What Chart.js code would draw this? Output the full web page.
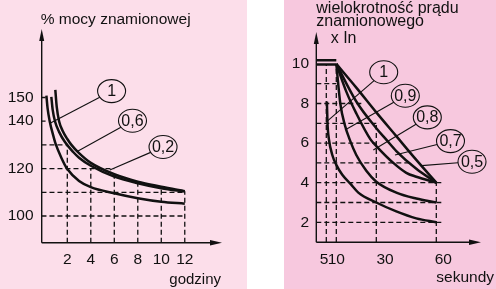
<!DOCTYPE html>
<html>
<head>
<meta charset="utf-8">
<script src="https://cdn.jsdelivr.net/npm/chart.js@4.4.1/dist/chart.umd.min.js"></script>
<style>
  body { margin: 0; width: 496px; height: 289px; background: #fff; position: relative; overflow: hidden; }
  #left { position: absolute; left: 0; top: 0; width: 247px; height: 289px; background: #fcdeea; }
  #right { position: absolute; left: 284px; top: 0; width: 212px; height: 289px; background: #f7c8de; }
  canvas { display: block; }
</style>
</head>
<body>
<div id="left"><canvas id="hours-chart" width="247" height="289"></canvas></div>
<div id="right"><canvas id="seconds-chart" width="212" height="289"></canvas></div>
<script>
// lewy wykres - % mocy znamionowej w funkcji czasu (godziny)
const hoursTicks = [2, 4, 6, 8, 10, 12];
const powerTicks = [150, 140, 120, 100];
const hoursCurve1 = [[0.22, 150.8], [0.32, 145.5], [0.5, 140], [0.8, 134], [1.0, 130.5], [1.5, 124.5], [2, 119.8], [3, 114.8], [4, 112.2], [6, 109.6], [8, 107.5], [10, 106], [12, 105.2]];
const hoursCurve06 = [[0.64, 150.3], [0.75, 145], [0.95, 140], [1.3, 135.5], [1.8, 131.2], [2.5, 127], [3, 124.6], [4, 121.2], [6, 116.6], [8, 113.8], [10, 111.7], [12, 110.3]];
const hoursCurve02 = [[0.98, 153.2], [1.1, 146], [1.3, 140], [1.6, 136], [2.0, 132.5], [2.35, 130], [3, 126.5], [4, 122.4], [6, 117.6], [8, 114.5], [10, 112.4], [12, 110.5]];
// odcinki przerywane [x1, y1, x2, y2]
const hoursGrid = [
  [-0.2, 130, 2, 130], [-0.2, 120, 6, 120], [-0.2, 110, 12, 110], [-0.2, 100, 12, 100],
  [-0.2, 150, 0.15, 150], [-0.2, 140, 0.15, 140],
  [2, 88.7, 2, 130], [4, 88.7, 4, 120], [6, 88.7, 6, 118], [8, 88.7, 8, 114], [10, 88.7, 10, 112], [12, 88.7, 12, 110.4]
];
// opisy krzywych: tekst, środek kółka, punkt na krzywej
const hoursCallouts = [
  ["1", [5.77, 152.7], [0.53, 139.1]],
  ["0,6", [7.55, 140.2], [2.8, 127.1]],
  ["0,2", [10.15, 129.1], [5.62, 119.4]]
];

// prawy wykres - wielokrotność prądu znamionowego w funkcji czasu (sekundy)
const secondsTicks = [5, 10, 30, 60];
const currentTicks = [10, 8, 6, 4, 2];
const secCurve1 = [[5.3, 8.1], [5.6, 7.0], [6.3, 6.2], [8, 5.4], [10, 4.9], [13, 4.4], [17, 3.95], [21, 3.5], [30, 3.0], [40, 2.55], [50, 2.2], [60, 2.0]];
const secCurve09 = [[10, 10], [12, 8.0], [14.3, 6.9], [17, 6.1], [20, 5.4], [25, 4.6], [30, 4.05], [40, 3.5], [50, 3.2], [60, 3.0]];
const secCurve08 = [[10, 10], [15, 8.6], [20, 7.5], [27, 6.2], [30, 5.85], [38.5, 5.0], [45, 4.5], [50, 4.3], [60, 4.0]];
const secCurve07 = [[10, 10], [20, 8.1], [30, 6.75], [35.2, 6.15], [40, 5.6], [50, 4.7], [60, 4.0]];
const secCurve05 = [[10, 10], [20, 8.8], [30, 7.55], [40, 6.35], [50, 5.15], [60, 4.0]];
const secPlateau = [[0, 10.18, 10, 10.18], [0, 9.97, 10, 9.97]];
const secondsGrid = [
  [0, 9, 10, 9], [0, 8, 23, 8], [0, 7, 30, 7], [0, 6, 30, 6], [0, 5, 48, 5],
  [0, 4, 63.5, 4], [0, 3, 63.5, 3], [0, 2, 63.5, 2],
  [5, 1, 5, 10], [10, 1, 10, 10], [30, 1, 30, 7], [60, 1, 60, 4]
];
const secondsCallouts = [
  ["1", [33.7, 9.58], [5.2, 7.08]],
  ["0,9", [44.5, 8.39], [14.35, 6.66]],
  ["0,8", [55.5, 7.3], [28.5, 5.65]],
  ["0,7", [67.1, 6.1], [39.35, 5.4]],
  ["0,5", [77.85, 5.06], [52.7, 4.86]]
];

const FONT = "'Liberation Sans', Arial, sans-serif";

function toPoints(arr) {
  return arr.map(function (p) { return { x: p[0], y: p[1] }; });
}

function toSegments(list) {
  const out = [];
  list.forEach(function (s) {
    out.push({ x: s[0], y: s[1] }, { x: s[2], y: s[3] }, { x: s[2], y: null });
  });
  return out;
}

function curve(data) {
  return {
    data: toPoints(data),
    borderColor: "#111",
    borderWidth: 2.5,
    pointRadius: 0,
    cubicInterpolationMode: "monotone",
    fill: false,
    order: 0,
  };
}

function dashed(list, width, dash) {
  return {
    data: toSegments(list),
    borderColor: "#111",
    borderWidth: width,
    borderDash: dash,
    pointRadius: 0,
    spanGaps: false,
    fill: false,
    order: 2,
  };
}

// osie ze strzałkami, podpisy, kółka z opisami krzywych
const decor = {
  id: "decor",
  afterDatasetsDraw(chart, args, o) {
    const ctx = chart.ctx;
    const xs = chart.scales.x;
    const ys = chart.scales.y;
    const a = chart.chartArea;
    ctx.save();
    ctx.strokeStyle = "#111";
    ctx.fillStyle = "#111";
    ctx.lineWidth = 1.4;
    ctx.beginPath();
    ctx.moveTo(a.left, a.bottom);
    ctx.lineTo(a.left, a.top + 6);
    ctx.moveTo(a.left, a.bottom);
    ctx.lineTo(a.right - 6, a.bottom);
    ctx.stroke();
    ctx.beginPath();
    ctx.moveTo(a.left, a.top);
    ctx.lineTo(a.left - 2.5, a.top + 12);
    ctx.lineTo(a.left + 2.5, a.top + 12);
    ctx.closePath();
    ctx.fill();
    ctx.beginPath();
    ctx.moveTo(a.right, a.bottom);
    ctx.lineTo(a.right - 12, a.bottom - 2.8);
    ctx.lineTo(a.right - 12, a.bottom + 2.8);
    ctx.closePath();
    ctx.fill();

    ctx.font = "15.5px " + FONT;
    ctx.textBaseline = "middle";
    ctx.textAlign = "right";
    o.yTicks.forEach(function (v) {
      ctx.fillText(String(v), o.yLabelX, ys.getPixelForValue(v));
    });
    ctx.textAlign = "center";
    o.xTicks.forEach(function (v, i) {
      ctx.fillText(String(v), xs.getPixelForValue(v) + (o.xShift ? o.xShift[i] : 0), o.xLabelY);
    });

    ctx.textBaseline = "alphabetic";
    o.texts.forEach(function (t) {
      ctx.font = t[4] + "px " + FONT;
      ctx.textAlign = t[3];
      ctx.fillText(t[0], t[1], t[2]);
    });

    const rx = 14, ry = 11.5;
    o.callouts.forEach(function (c) {
      const cx = xs.getPixelForValue(c[1][0]);
      const cy = ys.getPixelForValue(c[1][1]);
      const tx = xs.getPixelForValue(c[2][0]);
      const ty = ys.getPixelForValue(c[2][1]);
      const dx = tx - cx, dy = ty - cy;
      const k = 1 / Math.sqrt((dx / rx) * (dx / rx) + (dy / ry) * (dy / ry));
      ctx.lineWidth = 1.1;
      ctx.beginPath();
      ctx.moveTo(cx + dx * k, cy + dy * k);
      ctx.lineTo(tx, ty);
      ctx.stroke();
      ctx.beginPath();
      ctx.ellipse(cx, cy, rx, ry, 0, 0, Math.PI * 2);
      ctx.stroke();
      ctx.font = "16px " + FONT;
      ctx.textAlign = "center";
      ctx.textBaseline = "middle";
      ctx.fillText(c[0], cx, cy + 0.5);
    });
    ctx.restore();
  },
};

function makeChart(id, datasets, xRange, yRange, padding, decorOpts) {
  return new Chart(document.getElementById(id), {
    type: "line",
    data: { datasets: datasets },
    options: {
      responsive: false,
      animation: false,
      events: [],
      layout: { padding: padding },
      scales: {
        x: { type: "linear", min: xRange[0], max: xRange[1], display: false },
        y: { type: "linear", min: yRange[0], max: yRange[1], display: false },
      },
      elements: { line: { tension: 0 } },
      plugins: {
        legend: { display: false },
        tooltip: { enabled: false },
        decor: decorOpts,
      },
    },
    plugins: [decor],
  });
}

makeChart(
  "hours-chart",
  [curve(hoursCurve1), curve(hoursCurve06), curve(hoursCurve02), dashed(hoursGrid, 1.3, [5, 3])],
  [-0.18, 15.17],
  [88.73, 178.9],
  { left: 41.7, right: 25, top: 29, bottom: 46.3 },
  {
    yTicks: powerTicks,
    xTicks: hoursTicks,
    yLabelX: 33.5,
    xLabelY: 260,
    texts: [
      ["% mocy znamionowej", 40.7, 24, "left", 15.5],
      ["godziny", 221, 283.5, "right", 15],
    ],
    callouts: hoursCallouts,
  }
);

makeChart(
  "seconds-chart",
  [
    curve(secCurve1), curve(secCurve09), curve(secCurve08), curve(secCurve07), curve(secCurve05),
    Object.assign(dashed(secPlateau, 2.5, []), { order: 0 }),
    dashed(secondsGrid, 1.3, [5, 3]),
  ],
  [0, 82.35],
  [0.99, 11.61],
  { left: 32.3, right: 15, top: 32, bottom: 46.7 },
  {
    yTicks: currentTicks,
    xTicks: secondsTicks,
    xShift: [-2.3, 0, 8.8, 7],
    yLabelX: 25,
    xLabelY: 260,
    texts: [
      ["wielokrotność prądu", 32.3, 12.5, "left", 16],
      ["znamionowego", 32.3, 25.5, "left", 16],
      ["x In", 46.7, 43.3, "left", 16],
      ["sekundy", 210, 282, "right", 15.5],
    ],
    callouts: secondsCallouts,
  }
);
</script>
</body>
</html>
